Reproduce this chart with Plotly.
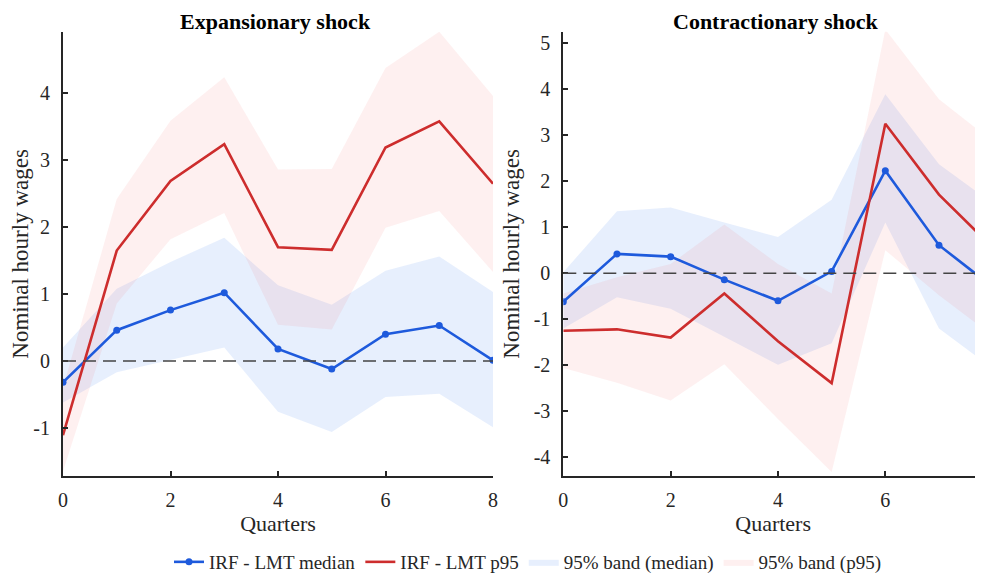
import plotly.graph_objects as go

quarters = [0, 1, 2, 3, 4, 5, 6, 7, 8]

# Expansionary shock
exp_median = [-0.32, 0.46, 0.76, 1.02, 0.18, -0.12, 0.40, 0.53, 0.01]
exp_median_lo = [-0.62, -0.17, 0.02, 0.20, -0.76, -1.06, -0.54, -0.49, -0.99]
exp_median_hi = [0.20, 1.08, 1.48, 1.84, 1.13, 0.84, 1.35, 1.56, 1.03]
exp_p95 = [-1.11, 1.65, 2.69, 3.24, 1.70, 1.66, 3.19, 3.58, 2.65]
exp_p95_lo = [-1.65, 0.86, 1.82, 2.21, 0.54, 0.47, 1.99, 2.24, 1.33]
exp_p95_hi = [-0.40, 2.42, 3.59, 4.24, 2.86, 2.87, 4.38, 4.92, 3.96]

# Contractionary shock
con_median = [-0.62, 0.42, 0.36, -0.14, -0.60, 0.04, 2.23, 0.61, -0.30]
con_median_lo = [-1.20, -0.52, -0.77, -1.38, -1.99, -1.52, 1.10, -1.20, -2.07]
con_median_hi = [0.02, 1.35, 1.43, 1.10, 0.79, 1.60, 3.89, 2.37, 1.52]
con_p95 = [-1.25, -1.22, -1.40, -0.44, -1.48, -2.39, 3.25, 1.71, 0.56]
con_p95_lo = [-2.06, -2.38, -2.77, -1.98, -3.17, -4.32, 0.50, -0.48, -1.36]
con_p95_hi = [-0.44, -0.09, 0.20, 1.06, 0.20, -0.44, 5.30, 3.78, 2.87]

y_ticks_left = [-1, 0, 1, 2, 3, 4]
y_ticks_right = [-4, -3, -2, -1, 0, 1, 2, 3, 4, 5]
x_ticks = [0, 2, 4, 6, 8]

BLUE = "rgb(30,90,220)"
RED = "rgb(205,45,45)"
BLUE_FILL = "rgba(40,110,235,0.11)"
RED_FILL = "rgba(240,80,80,0.085)"
AX = "#262626"
FONT = "Liberation Serif, Times New Roman, serif"

fig = go.Figure()


def add_panel(xa, ya, med, mlo, mhi, p, plo, phi, show):
    fig.add_trace(go.Scatter(
        x=quarters + quarters[::-1], y=mhi + mlo[::-1], fill="toself",
        fillcolor=BLUE_FILL, line=dict(width=0), mode="lines",
        name="95% band (median)", legendgroup="bm", showlegend=show,
        xaxis=xa, yaxis=ya, hoverinfo="skip", legendrank=3))
    fig.add_trace(go.Scatter(
        x=quarters + quarters[::-1], y=phi + plo[::-1], fill="toself",
        fillcolor=RED_FILL, line=dict(width=0), mode="lines",
        name="95% band (p95)", legendgroup="bp", showlegend=show,
        xaxis=xa, yaxis=ya, hoverinfo="skip", legendrank=4))
    fig.add_trace(go.Scatter(
        x=quarters, y=med, mode="lines+markers",
        line=dict(color=BLUE, width=2.6), marker=dict(size=7, color=BLUE),
        name="IRF - LMT median", legendgroup="m", showlegend=show,
        xaxis=xa, yaxis=ya, legendrank=1))
    fig.add_trace(go.Scatter(
        x=quarters, y=p, mode="lines",
        line=dict(color=RED, width=2.6),
        name="IRF - LMT p95", legendgroup="p", showlegend=show,
        xaxis=xa, yaxis=ya, legendrank=2))


add_panel("x", "y", exp_median, exp_median_lo, exp_median_hi,
          exp_p95, exp_p95_lo, exp_p95_hi, True)
add_panel("x2", "y2", con_median, con_median_lo, con_median_hi,
          con_p95, con_p95_lo, con_p95_hi, False)

# page body has an 8px margin, so the figure is sized to the visible area
W, H = 975, 573

axis_common = dict(
    showline=True, linecolor=AX, linewidth=2, ticks="inside", ticklen=5,
    tickcolor=AX, tickwidth=1.5, showgrid=False, zeroline=False, automargin=False,
    tickfont=dict(family=FONT, size=20, color=AX),
)


def labels(vals):
    return [str(v) for v in vals]


ytop, ybot = 24, 473

fig.update_layout(
    width=W, height=H,
    margin=dict(l=0, r=0, t=0, b=0),
    paper_bgcolor="white", plot_bgcolor="white",
    font=dict(family=FONT, color=AX),
    xaxis=dict(domain=[55 / W, 485 / W], range=[0, 8], tickvals=x_ticks, ticktext=labels(x_ticks),
               anchor="y", title=dict(text="Quarters", font=dict(family=FONT, size=22, color=AX), standoff=4),
               ticklabelstandoff=5, **axis_common),
    yaxis=dict(domain=[1 - ybot / H, 1 - ytop / H], range=[-1.72, 4.92],
               tickvals=y_ticks_left, ticktext=labels(y_ticks_left), anchor="x",
               title=dict(text="Nominal hourly wages", font=dict(family=FONT, size=23, color=AX), standoff=8),
               ticklabelstandoff=7, **axis_common),
    xaxis2=dict(domain=[555.3 / W, 1.0], range=[0, 7.82], tickvals=x_ticks, ticktext=labels(x_ticks),
                anchor="y2", title=dict(text="Quarters", font=dict(family=FONT, size=22, color=AX), standoff=4),
                ticklabelstandoff=5, **axis_common),
    yaxis2=dict(domain=[1 - ybot / H, 1 - ytop / H], range=[-4.41, 5.25],
                tickvals=y_ticks_right, ticktext=labels(y_ticks_right), anchor="x2",
                title=dict(text="Nominal hourly wages", font=dict(family=FONT, size=23, color=AX), standoff=8),
                ticklabelstandoff=7, **axis_common),
    legend=dict(orientation="h", x=520 / W, xanchor="center", y=13 / H, yanchor="middle",
                font=dict(family=FONT, size=19, color=AX), bgcolor="rgba(0,0,0,0)",
                traceorder="normal", itemwidth=30),
    annotations=[
        dict(text="<b>Expansionary shock</b>", x=267 / W, y=1.0,
             xref="paper", yref="paper", showarrow=False, borderpad=0,
             font=dict(family=FONT, size=22, color="black"), xanchor="center", yanchor="top"),
        dict(text="<b>Contractionary shock</b>", x=767 / W, y=1.0,
             xref="paper", yref="paper", showarrow=False, borderpad=0,
             font=dict(family=FONT, size=22, color="black"), xanchor="center", yanchor="top"),
    ],
    shapes=[
        dict(type="line", xref="x domain", yref="y", x0=0, x1=1, y0=0, y1=0,
             line=dict(color="#444444", width=1.6, dash="13px,7px"), layer="above"),
        dict(type="line", xref="x2 domain", yref="y2", x0=0, x1=1, y0=0, y1=0,
             line=dict(color="#444444", width=1.6, dash="13px,7px"), layer="above"),
    ],
)

fig.write_html("out.html")
